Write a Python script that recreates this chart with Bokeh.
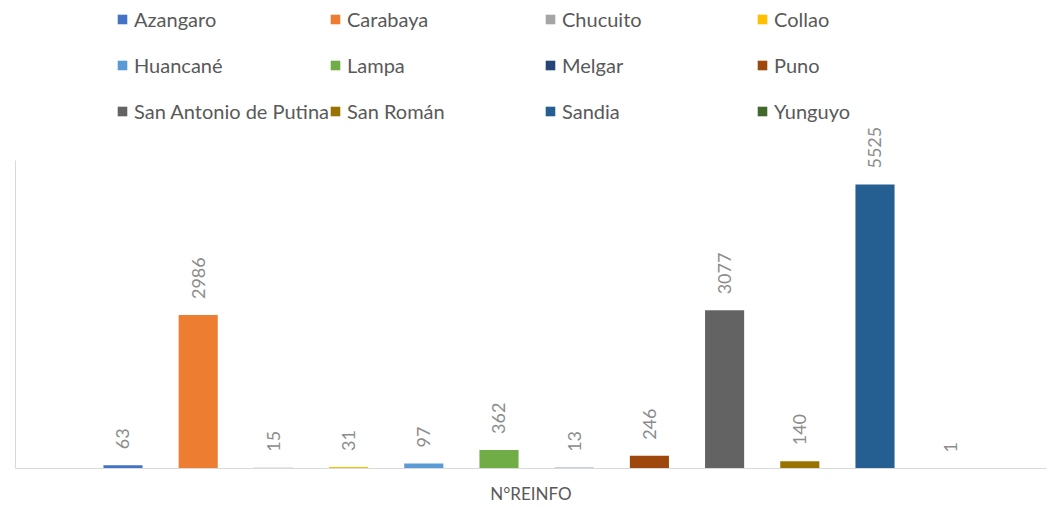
import math
from bokeh.plotting import figure
from bokeh.models import Range1d, Legend, LegendItem, ColumnDataSource, FixedTicker
from bokeh.core.properties import value
from bokeh.embed import file_html
from bokeh.resources import INLINE

provinces = ["Azangaro", "Carabaya", "Chucuito", "Collao", "Huancané", "Lampa",
             "Melgar", "Puno", "San Antonio de Putina", "San Román", "Sandia", "Yunguyo"]
reinfo = [63, 2986, 15, 31, 97, 362, 13, 246, 3077, 140, 5525, 1]
colors = ["#4472C4", "#ED7D31", "#A5A5A5", "#FFC000", "#5B9BD5", "#70AD47",
          "#264478", "#9E480E", "#636363", "#997300", "#255E91", "#43682B"]
axis_title = "N°REINFO"
y_axis_max = 6000

positions = list(range(len(provinces)))
src = ColumnDataSource(dict(x=positions, top=reinfo, color=colors,
                            label=[str(v) for v in reinfo]))

p = figure(width=1050, height=506, output_backend="svg", toolbar_location=None,
           x_range=Range1d(-1.4295, 12.2806), y_range=Range1d(0, 9105),
           min_border_left=15, min_border_right=4, min_border_top=0, min_border_bottom=38)
p.outline_line_color = None
p.grid.visible = False

for ax in (p.xaxis[0], p.yaxis[0]):
    ax.ticker = FixedTicker(ticks=[])
    ax.axis_line_color = "#d9d9d9"
    ax.major_tick_out = 0
    ax.major_tick_in = 0
    ax.minor_tick_out = 0
    ax.minor_tick_in = 0
    ax.major_label_standoff = 0
    ax.major_label_text_font_size = "0px"

p.yaxis[0].bounds = (0, y_axis_max)

ax = p.xaxis[0]
ax.axis_label = axis_title
ax.axis_label_text_font = "Lato"
ax.axis_label_text_font_size = "17px"
ax.axis_label_text_font_style = "normal"
ax.axis_label_text_color = "#595959"
ax.axis_label_standoff = 14

bars = p.vbar(x="x", top="top", width=0.52, fill_color="color", line_color=None, source=src)
p.text(x="x", y="top", text="label", source=src, angle=math.pi / 2,
       text_align="left", text_baseline="middle", y_offset=-16,
       text_font=value("Lato"), text_font_size="18px", text_color="#8c8c8c")

col_x = [101, 314, 529, 741]
for c in range(4):
    items = [LegendItem(label=provinces[r * 4 + c], renderers=[bars], index=r * 4 + c)
             for r in range(3)]
    leg = Legend(items=items, location=(col_x[c], 345), orientation="vertical",
                 glyph_width=12, glyph_height=12, label_standoff=6,
                 label_text_font="Lato", label_text_font_size="20px",
                 label_text_color="#595959", label_height=22, spacing=22,
                 padding=0, margin=0, border_line_color=None,
                 background_fill_alpha=0)
    p.add_layout(leg, "center")

open("out.html", "w").write(file_html(p, INLINE))
